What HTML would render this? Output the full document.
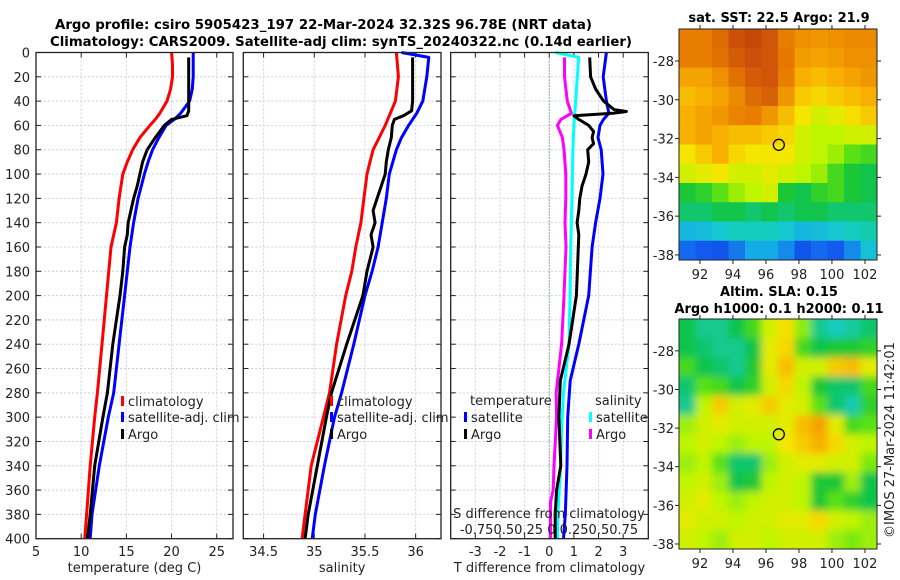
<!DOCTYPE html>
<html><head><meta charset="utf-8">
<style>
html,body{margin:0;padding:0;background:#fff;}
svg{display:block;font-family:"DejaVu Sans","Liberation Sans",sans-serif;}
</style></head>
<body>
<svg id="fig" width="900" height="580" viewBox="0 0 900 580" xmlns="http://www.w3.org/2000/svg">
<defs>
<clipPath id="clipSst"><rect x="679" y="29" width="198" height="231"/></clipPath>
<clipPath id="clipSla"><rect x="679" y="319" width="198" height="230"/></clipPath>
<filter id="blur" x="-10%" y="-10%" width="120%" height="120%"><feGaussianBlur stdDeviation="4"/></filter>
</defs>
<text x="55" y="29" font-size="13" font-weight="bold" textLength="537" lengthAdjust="spacingAndGlyphs">Argo profile: csiro 5905423_197 22-Mar-2024 32.32S 96.78E (NRT data)</text>
<text x="50" y="46" font-size="13" font-weight="bold" textLength="582" lengthAdjust="spacingAndGlyphs">Climatology: CARS2009. Satellite-adj clim: synTS_20240322.nc (0.14d earlier)</text>
<text x="779" y="22" font-size="13" font-weight="bold" text-anchor="middle">sat. SST: 22.5 Argo: 21.9</text>
<text x="779" y="296" font-size="13" font-weight="bold" text-anchor="middle">Altim. SLA: 0.15</text>
<text x="779" y="313" font-size="13" font-weight="bold" text-anchor="middle">Argo h1000: 0.1 h2000: 0.11</text>
<text x="0" y="0" font-size="13" fill="#222" text-anchor="middle" transform="translate(894,440) rotate(-90)">©IMOS 27-Mar-2024 11:42:01</text>
</svg>
<script>
// ---------- data ----------
const depths = [0,10,20,30,40,50,55,60,70,80,90,100,120,140,160,200,240,280,300,340,380,400];
const tempClim = [20.0,20.1,20.1,19.9,19.5,18.7,18.2,17.6,16.5,15.7,15.1,14.6,14.2,13.9,13.3,12.8,12.3,11.8,11.5,11.0,10.6,10.4];
const tempSat = [22.4,22.4,22.4,22.3,22.0,21.0,20.3,19.4,18.6,17.9,17.4,17.0,16.3,15.8,15.4,14.8,14.2,13.6,13.0,12.0,11.2,11.0];
const argoDepths = [4,10,20,30,40,48,52,55,60,70,80,90,100,110,120,130,140,150,160,180,200,240,280,300,340,380,400];
const tempArgo = [21.9,21.9,21.9,21.9,21.9,21.9,21.7,20.0,19.2,18.2,17.3,16.8,16.5,16.2,15.8,15.5,15.2,15.1,14.8,14.6,14.3,13.5,12.9,12.4,11.5,11.0,10.7];
const salDepths = [0,20,40,50,60,70,80,90,100,120,140,160,180,200,240,280,300,340,380,400];
const salClim = [35.81,35.83,35.80,35.75,35.70,35.64,35.58,35.55,35.52,35.49,35.46,35.41,35.37,35.31,35.22,35.15,35.09,34.97,34.91,34.88];
const salSatDepths = [0,4,20,40,50,60,70,80,100,120,140,160,180,200,240,280,300,340,380,400];
const salSat = [35.86,36.13,36.11,36.07,36.01,35.93,35.86,35.81,35.74,35.71,35.67,35.63,35.57,35.50,35.39,35.27,35.20,35.10,35.01,34.98];
const salArgo = [35.97,35.97,35.97,35.97,35.97,35.96,35.88,35.79,35.77,35.76,35.73,35.71,35.70,35.66,35.62,35.58,35.60,35.56,35.58,35.52,35.48,35.32,35.17,35.12,35.03,34.94,34.91];
const diffDepths = [0,20,40,50,55,60,70,80,100,120,140,160,200,240,270,300,340,380,400];
const dTempSat = [2.32,2.19,2.32,2.42,2.2,2.06,1.98,2.11,2.18,2.06,1.88,1.74,1.6,1.2,0.85,0.75,0.72,0.65,0.58];
const argoDiffDepths = [4,20,30,40,47,48.5,50,52,55,60,65,70,75,80,90,100,110,120,130,140,150,200,240,270,300,340,360,380,400];
const dTempArgo = [1.64,1.68,1.88,2.2,2.63,3.13,2.58,1.0,1.2,1.6,1.8,1.74,1.8,1.56,1.6,1.49,1.33,1.24,1.2,1.13,1.2,1.1,0.8,0.45,0.39,0.47,0.3,0.24,0.24];
const dSalSatDepths = [0,4,20,40,60,80,100,140,160,200,240,280,300,340,380,400];
const dSalSat = [0.065,0.30,0.285,0.268,0.25,0.24,0.235,0.225,0.218,0.212,0.2,0.145,0.13,0.115,0.088,0.083];
const dSalArgoDepths = [4,20,40,50,55,60,70,80,100,120,140,160,200,240,280,300,340,360,370,400];
const dSalArgo = [0.155,0.155,0.183,0.225,0.118,0.083,0.133,0.15,0.168,0.168,0.16,0.17,0.15,0.125,0.07,0.075,0.048,0.04,0.013,0.013];
const depthTicks = [0,20,40,60,80,100,120,140,160,180,200,220,240,260,280,300,320,340,360,380,400];
const tempTicks = [5,10,15,20,25];
const salTicks = [34.5,35,35.5,36];
const diffTicks = [-3,-2,-1,0,1,2,3];
const latTicks = [-28,-30,-32,-34,-36,-38];
const lonTicks = [92,94,96,98,100,102];
const argoLon = 96.78, argoLat = -32.32;
const sstGrid = [
[0.8,0.8,0.83,0.88,0.9,0.87,0.8,0.77,0.76,0.77,0.78,0.78],
[0.8,0.8,0.82,0.86,0.88,0.87,0.81,0.75,0.74,0.75,0.77,0.77],
[0.74,0.74,0.77,0.82,0.86,0.87,0.8,0.72,0.7,0.72,0.74,0.76],
[0.7,0.72,0.74,0.78,0.83,0.85,0.76,0.68,0.66,0.68,0.7,0.72],
[0.72,0.74,0.76,0.79,0.8,0.76,0.7,0.64,0.6,0.62,0.65,0.68],
[0.72,0.74,0.72,0.7,0.7,0.68,0.66,0.6,0.58,0.58,0.6,0.6],
[0.64,0.68,0.72,0.66,0.64,0.64,0.64,0.6,0.58,0.56,0.52,0.5],
[0.6,0.62,0.64,0.6,0.6,0.62,0.6,0.58,0.56,0.5,0.46,0.44],
[0.46,0.48,0.52,0.56,0.58,0.6,0.46,0.44,0.48,0.5,0.46,0.44],
[0.42,0.42,0.44,0.44,0.42,0.44,0.42,0.44,0.44,0.42,0.42,0.42],
[0.32,0.33,0.35,0.37,0.37,0.37,0.35,0.32,0.33,0.35,0.37,0.38],
[0.22,0.2,0.18,0.24,0.3,0.3,0.26,0.18,0.22,0.2,0.26,0.34]];
const slaGrid = [
[0.44,0.4,0.4,0.44,0.5,0.6,0.65,0.55,0.4,0.37,0.39,0.42],
[0.44,0.42,0.4,0.4,0.44,0.62,0.66,0.5,0.44,0.46,0.46,0.48],
[0.5,0.44,0.42,0.4,0.46,0.62,0.7,0.6,0.6,0.68,0.7,0.62],
[0.42,0.52,0.5,0.44,0.48,0.6,0.66,0.58,0.46,0.42,0.42,0.5],
[0.4,0.58,0.68,0.6,0.62,0.68,0.62,0.6,0.52,0.42,0.38,0.48],
[0.56,0.6,0.62,0.6,0.6,0.6,0.62,0.7,0.74,0.62,0.5,0.52],
[0.58,0.6,0.58,0.56,0.58,0.58,0.64,0.68,0.72,0.66,0.6,0.58],
[0.56,0.58,0.52,0.42,0.42,0.56,0.6,0.62,0.62,0.6,0.6,0.54],
[0.58,0.6,0.56,0.44,0.46,0.58,0.6,0.58,0.46,0.46,0.56,0.44],
[0.6,0.62,0.58,0.56,0.58,0.6,0.6,0.58,0.46,0.52,0.48,0.44],
[0.62,0.6,0.6,0.58,0.6,0.6,0.62,0.62,0.66,0.6,0.58,0.56],
[0.6,0.58,0.56,0.6,0.6,0.58,0.6,0.6,0.6,0.56,0.54,0.56]];

// ---------- helpers ----------
const NS = "http://www.w3.org/2000/svg";
const svg = document.getElementById('fig');
function mk(tag, attrs, parent) {
  const e = document.createElementNS(NS, tag);
  for (const k in attrs) e.setAttribute(k, attrs[k]);
  (parent || svg).appendChild(e);
  return e;
}
const Y0 = 52.5, Y1 = 538.7;
const yD = d => Y0 + d / 400 * (Y1 - Y0);
function lin(d0, d1, r0, r1) { return v => r0 + (v - d0) / (d1 - d0) * (r1 - r0); }

const panels = [
  {name:'temperature', x0:36, x1:233, dom:[5,26.8], ticks:tempTicks, label:'temperature (deg C)'},
  {name:'salinity', x0:243.3, x1:441, dom:[34.3,36.25], ticks:salTicks, label:'salinity'},
  {name:'difference', x0:450.7, x1:648.3, dom:[-4,4.02], ticks:diffTicks, label:'T difference from climatology'}
];
panels.forEach(p => { p.xs = lin(p.dom[0], p.dom[1], p.x0, p.x1); });

function drawPanel(p, idx) {
  const g = mk('g', {});
  
  
  depthTicks.forEach(d => {
    if (d === 0 || d === 400) return;
    const l = mk('line', {x1:p.x0, x2:p.x1, y1:yD(d), y2:yD(d), stroke:'#c8d0e8', 'stroke-width':1, 'stroke-dasharray':'2,2'}, g);
    
    
  });
  p.ticks.forEach(t => {
    const x = p.xs(t);
    if (x > p.x0 + 1) {
      const l = mk('line', {x1:x, x2:x, y1:Y0, y2:Y1, stroke:'#c8d0e8', 'stroke-width':1, 'stroke-dasharray':'2,2'}, g);
      
      
    }
    mk('line', {x1:x, x2:x, y1:Y1, y2:Y1-5, stroke:'#222'}, g);
    mk('line', {x1:x, x2:x, y1:Y0, y2:Y0+5, stroke:'#222'}, g);
    const tx = mk('text', {x:x, y:556, 'font-size':13, 'text-anchor':'middle', fill:'#222'}, g);
    tx.textContent = String(t);
    
    
  });
  depthTicks.forEach(d => {
    mk('line', {x1:p.x0, x2:p.x0+5, y1:yD(d), y2:yD(d), stroke:'#222'}, g);
    mk('line', {x1:p.x1, x2:p.x1-5, y1:yD(d), y2:yD(d), stroke:'#222'}, g);
    if (idx === 0) {
      const tx = mk('text', {x:30, y:yD(d)+5, 'font-size':13, 'text-anchor':'end', fill:'#222'}, g);
      tx.textContent = String(d);
      
      
    }
  });
  const lab = mk('text', {x:(p.x0+p.x1)/2, y:572, 'font-size':13, 'text-anchor':'middle', fill:'#222'}, g);
  lab.textContent = p.label;
  
  
  return g;
}
function frame(p, g) {
  const r = mk('rect', {x:p.x0, y:Y0, width:p.x1-p.x0, height:Y1-Y0, fill:'none', stroke:'#222', 'stroke-width':1.3}, g);
  
  
}
function series(g, xs, ds, vals, color, name, scale) {
  const pts = vals.map((v, i) => xs(v * (scale || 1)).toFixed(1) + ',' + yD(ds[i]).toFixed(1)).join(' ');
  const pl = mk('polyline', {points:pts, fill:'none', stroke:color, 'stroke-width':3, 'stroke-linejoin':'round'}, g);
  
  
}
function legend(g, x, y, color, text, name) {
  const r = mk('rect', {x:x, y:y-9, width:3, height:10, fill:color}, g);
  
  
  const t = mk('text', {x:x+7, y:y+1, 'font-size':13, fill:'#222'}, g);
  t.textContent = text;
  
  
}

let P = panels[0], g = drawPanel(P, 0);
series(g, P.xs, depths, tempClim, '#ff0000', 'temp-climatology-line');
series(g, P.xs, depths, tempSat, '#0000ff', 'temp-satellite-line');
series(g, P.xs, argoDepths, tempArgo, '#000000', 'temp-argo-line');
legend(g, 121, 405, '#ff0000', 'climatology', 'legend-climatology');
legend(g, 121, 421, '#0000ff', 'satellite-adj. clim', 'legend-satellite');
legend(g, 121, 438, '#000000', 'Argo', 'legend-argo');
frame(P, g);

P = panels[1]; g = drawPanel(P, 1);
series(g, P.xs, salDepths, salClim, '#ff0000', 'sal-climatology-line');
series(g, P.xs, salSatDepths, salSat, '#0000ff', 'sal-satellite-line');
series(g, P.xs, argoDepths, salArgo, '#000000', 'sal-argo-line');
legend(g, 330, 405, '#ff0000', 'climatology', 'legend-climatology-2');
legend(g, 330, 421, '#0000ff', 'satellite-adj. clim', 'legend-satellite-2');
legend(g, 330, 438, '#000000', 'Argo', 'legend-argo-2');
frame(P, g);

P = panels[2]; g = drawPanel(P, 2);
const zl = mk('line', {x1:P.xs(0), x2:P.xs(0), y1:Y0, y2:Y1, stroke:'#556b2f', 'stroke-width':1, 'stroke-dasharray':'1,2'}, g);


series(g, P.xs, dSalArgoDepths, dSalArgo, '#ff00ff', 'sal-argo-diff-line', 4);
series(g, P.xs, dSalSatDepths, dSalSat, '#00ffff', 'sal-satellite-diff-line', 4);
series(g, P.xs, diffDepths, dTempSat, '#0000ff', 'temp-satellite-diff-line');
series(g, P.xs, argoDiffDepths, dTempArgo, '#000000', 'temp-argo-diff-line');
let t = mk('text', {x:470, y:405, 'font-size':13, fill:'#222'}, g);
t.textContent = 'temperature';


t = mk('text', {x:595, y:405, 'font-size':13, fill:'#222'}, g);
t.textContent = 'salinity';


legend(g, 464, 421, '#0000ff', 'satellite', 'legend-t-satellite');
legend(g, 464, 438, '#000000', 'Argo', 'legend-t-argo');
legend(g, 589, 421, '#00ffff', 'satellite', 'legend-s-satellite');
legend(g, 589, 438, '#ff00ff', 'Argo', 'legend-s-argo');
t = mk('text', {x:549, y:518, 'font-size':13, 'text-anchor':'middle', fill:'#222'}, g);
t.textContent = 'S difference from climatology';


t = mk('text', {x:549, y:534, 'font-size':13, 'text-anchor':'middle', fill:'#222'}, g);
t.textContent = '-0.750.50.25 0 0.250.50.75';


frame(P, g);

const stops = [[0,[0,40,180]],[0.2,[20,90,240]],[0.3,[20,170,230]],[0.36,[20,205,205]],[0.45,[15,195,60]],[0.52,[90,225,20]],[0.58,[190,245,0]],[0.64,[245,230,0]],[0.72,[248,175,0]],[0.8,[232,125,0]],[0.88,[205,80,10]],[1,[160,30,0]]];
function cmap(v) {
  for (let i = 1; i < stops.length; i++) {
    if (v <= stops[i][0]) {
      const a = stops[i-1], b = stops[i], f = (v - a[0]) / (b[0] - a[0]);
      const c = a[1].map((x, k) => Math.round(x + (b[1][k] - x) * f));
      return 'rgb(' + c.join(',') + ')';
    }
  }
  return 'rgb(160,30,0)';
}
const mapX0 = 679, mapX1 = 877;
const lonS = lin(90.73, 102.73, mapX0, mapX1);
function drawMap(grid, top, bottom, name, clipId, smooth) {
  const latS = lin(-26.35, -38.26, top, bottom);
  const g = mk('g', {});
  
  
  const inner = mk('g', {'clip-path':'url(#' + clipId + ')'}, g);
  const cells = mk('g', smooth ? {filter:'url(#blur)'} : {}, inner);
  const nr = grid.length, nc = grid[0].length;
  const cw = (mapX1 - mapX0) / nc, ch = (bottom - top) / nr;
  grid.forEach((row, r) => row.forEach((v, c) => {
    const pad = smooth ? 8 : 0;
    const x = mapX0 + c * cw - (c === 0 ? pad : 0);
    const y = top + r * ch - (r === 0 ? pad : 0);
    const w = cw + 0.6 + (c === 0 || c === nc - 1 ? pad : 0);
    const h = ch + 0.6 + (r === 0 || r === nr - 1 ? pad : 0);
    const rc = mk('rect', {x:x, y:y, width:w, height:h, fill:cmap(v)}, cells);
    
    
  }));
  const ci = mk('circle', {cx:lonS(argoLon), cy:latS(argoLat), r:5.5, fill:'none', stroke:'#000', 'stroke-width':1.3}, g);
  
  
  mk('rect', {x:mapX0, y:top, width:mapX1-mapX0, height:bottom-top, fill:'none', stroke:'#222', 'stroke-width':1}, g);
  latTicks.forEach(l => {
    const y = latS(l);
    mk('line', {x1:mapX0, x2:mapX0-4, y1:y, y2:y, stroke:'#222'}, g);
    mk('line', {x1:mapX1, x2:mapX1+4, y1:y, y2:y, stroke:'#222'}, g);
    const tx = mk('text', {x:674, y:y+5, 'font-size':13, 'text-anchor':'end', fill:'#222'}, g);
    tx.textContent = String(l);
    
    
  });
  lonTicks.forEach(l => {
    const x = lonS(l);
    mk('line', {x1:x, x2:x, y1:bottom, y2:bottom+4, stroke:'#222'}, g);
    mk('line', {x1:x, x2:x, y1:top, y2:top-4, stroke:'#222'}, g);
    const tx = mk('text', {x:x, y:bottom+19, 'font-size':13, 'text-anchor':'middle', fill:'#222'}, g);
    tx.textContent = String(l);
    
    
  });
}
drawMap(sstGrid, 29, 260, 'sst-map', 'clipSst', false);
drawMap(slaGrid, 319, 549, 'sla-map', 'clipSla', true);
</script>
</body></html>
